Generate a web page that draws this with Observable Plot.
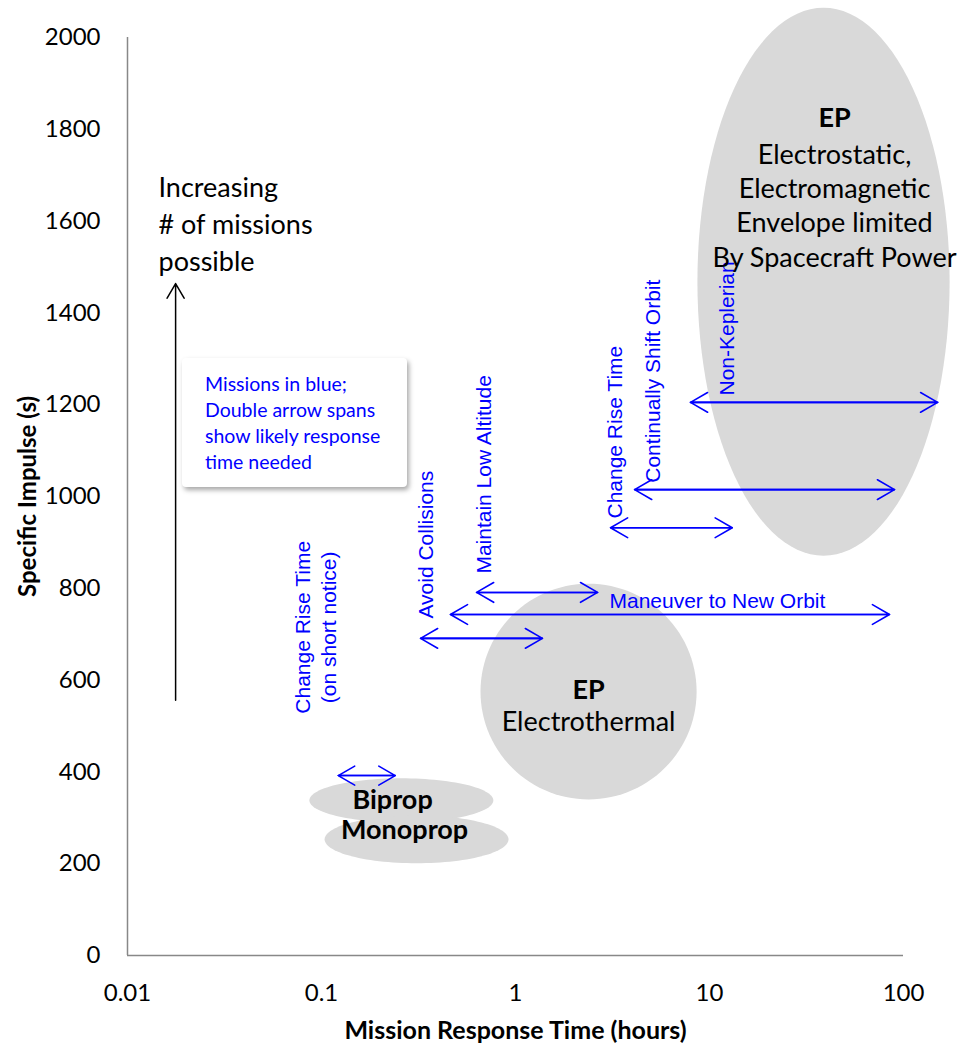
<!DOCTYPE html>
<html><head><meta charset="utf-8">
<script src="https://cdn.jsdelivr.net/npm/d3@7"></script>
<script src="https://cdn.jsdelivr.net/npm/@observablehq/plot@0.6"></script>
<style>
body{margin:0;background:#fff;}
#wrap{position:relative;width:959px;height:1045px;}
#note{position:absolute;left:182px;top:358px;width:225px;height:129px;box-sizing:border-box;background:#fff;border-radius:4px;box-shadow:2px 3px 5px rgba(0,0,0,0.35);font-family:Lato,sans-serif;font-size:19.5px;color:#0000ff;padding:13px 0 0 23px;line-height:26px;}
</style></head>
<body><div id="wrap"><div id="note">Missions in blue;<br>Double arrow spans<br>show likely response<br>time needed</div></div>
<script>
// Axis ticks
const xTicks = [0.01, 0.1, 1, 10, 100];
const yTicks = [0, 200, 400, 600, 800, 1000, 1200, 1400, 1600, 1800, 2000];

// Propulsion regions (ellipses): centre, half-width in decades of hours, half-height in s
const regionNames = ["EP electrostatic", "EP electrothermal", "Biprop", "Monoprop"];
const regionCx = [38.7, 2.38, 0.258, 0.309];
const regionCy = [1468, 575, 338, 253];
const regionRxDecades = [0.65, 0.557, 0.474, 0.474];
const regionRy = [597, 235, 48, 52];

// Missions: response time span (hours) at a specific impulse (s)
const missionNames = ["Change Rise Time (on short notice)", "Avoid Collisions", "Maneuver to New Orbit", "Maintain Low Altitude", "Change Rise Time", "Continually Shift Orbit", "Non-Keplerian"];
const missionIsp = [392, 691, 743, 791, 932, 1015, 1205];
const missionTmin = [0.122, 0.324, 0.462, 0.630, 3.09, 4.11, 7.98];
const missionTmax = [0.240, 1.377, 84.7, 2.65, 13.1, 89.9, 150];

// Mission labels (vertical text; bottom-anchored ones and one centred)
const missionLabelText = ["Avoid Collisions", "Maintain Low Altitude", "Change Rise Time", "Continually Shift Orbit", "Non-Keplerian"];
const missionLabelX = [0.3475, 0.692, 3.27, 5.14, 12.4];
const missionLabelY = [734, 832, 952, 1030, 1220];
const shortNoticeLabel = {text: "Change Rise Time\n(on short notice)", x: 0.092, y: 715};
const maneuverLabel = {text: "Maneuver to New Orbit", x: 3.05, y: 771};

// Region labels
const regionBoldText = ["EP", "EP", "Biprop", "Monoprop"];
const regionBoldX = [44.1, 2.38, 0.2325, 0.268];
const regionBoldY = [1824, 577, 338, 272];
const regionSubText = ["Electrostatic,\nElectromagnetic\nEnvelope limited\nBy Spacecraft Power", "Electrothermal"];
const regionSubX = [44.1, 2.38];
const regionSubY = [1637, 514];

// Trend arrow
const trendX = 0.0177;
const trendFrom = 556;
const trendTo = 1464;
const trendLabel = {text: "Increasing\n# of missions\npossible", x: 0.01445, y: 1598};

// Build tables
const ellipsePts = [];
regionNames.forEach((name, i) => {
  const lc = Math.log10(regionCx[i]);
  for (let k = 0; k <= 120; k++) {
    const t = 2 * Math.PI * k / 120;
    ellipsePts.push({name, x: Math.pow(10, lc + regionRxDecades[i] * Math.cos(t)), y: regionCy[i] + regionRy[i] * Math.sin(t)});
  }
});
const spans = missionNames.map((name, i) => ({name, isp: missionIsp[i], a: missionTmin[i], b: missionTmax[i]}));
const mLabels = missionLabelText.map((text, i) => ({text, x: missionLabelX[i], y: missionLabelY[i]}));
const bLabels = regionBoldText.map((text, i) => ({text, x: regionBoldX[i], y: regionBoldY[i]}));
const sLabels = regionSubText.map((text, i) => ({text, x: regionSubX[i], y: regionSubY[i]}));

const blue = "#0000ff";
const chart = Plot.plot({
  width: 959, height: 1045,
  marginLeft: 127, marginRight: 56, marginTop: 37, marginBottom: 90,
  x: {type: "log", domain: [0.01, 100]},
  y: {domain: [0, 2000]},
  style: {fontFamily: "Lato, sans-serif", fontSize: "24px", background: "white", overflow: "visible", color: "black"},
  marks: [
    Plot.line(ellipsePts, {x: "x", y: "y", z: "name", fill: "#d9d9d9", stroke: "none", curve: "linear-closed"}),
    Plot.ruleX([0.01], {y1: 0, y2: 2000, stroke: "#888", strokeWidth: 1.5}),
    Plot.ruleY([0], {x1: 0.01, x2: 100, stroke: "#888", strokeWidth: 1.5}),
    Plot.axisY({ticks: yTicks, tickFormat: d => String(d), tickSize: 0, tickPadding: 27, label: null}),
    Plot.axisX({ticks: xTicks, tickFormat: d => String(d), tickSize: 0, tickPadding: 28, label: null}),
    Plot.text(["Specific Impulse (s)"], {frameAnchor: "left", dx: -99, rotate: -90, textAnchor: "middle", fontWeight: "bold", fontSize: 24}),
    Plot.text(["Mission Response Time (hours)"], {frameAnchor: "bottom", dy: 75, lineAnchor: "middle", fontWeight: "bold", fontSize: 25}),
    Plot.arrow(spans, {x1: "a", x2: "b", y1: "isp", y2: "isp", stroke: blue, strokeWidth: 1.6, headLength: 18.5, inset: 0}),
    Plot.arrow(spans, {x1: "b", x2: "a", y1: "isp", y2: "isp", stroke: blue, strokeWidth: 1.6, headLength: 18.5, inset: 0}),
    Plot.arrow([0], {x1: () => trendX, x2: () => trendX, y1: () => trendFrom, y2: () => trendTo, stroke: "black", strokeWidth: 1.5, headLength: 17, inset: 0}),
    Plot.text([trendLabel], {x: "x", y: "y", text: "text", textAnchor: "start", lineAnchor: "middle", lineHeight: 1.37, fontSize: 27}),
    Plot.text(mLabels, {x: "x", y: "y", text: "text", rotate: -90, textAnchor: "start", lineAnchor: "middle", fill: blue, fontFamily: "Liberation Sans", fontSize: 21}),
    Plot.text([shortNoticeLabel], {x: "x", y: "y", text: "text", rotate: -90, textAnchor: "middle", lineAnchor: "middle", lineHeight: 1.24, fill: blue, fontFamily: "Liberation Sans", fontSize: 21}),
    Plot.text([maneuverLabel], {x: "x", y: "y", text: "text", textAnchor: "start", fill: blue, fontFamily: "Liberation Sans", fontSize: 21}),
    Plot.text(bLabels, {x: "x", y: "y", text: "text", fontWeight: "bold", fontSize: 27}),
    Plot.text(sLabels, {x: "x", y: "y", text: "text", lineAnchor: "middle", lineHeight: 1.27, fontSize: 27})
  ]
});
document.getElementById("wrap").prepend(chart);
</script>
</body></html>
